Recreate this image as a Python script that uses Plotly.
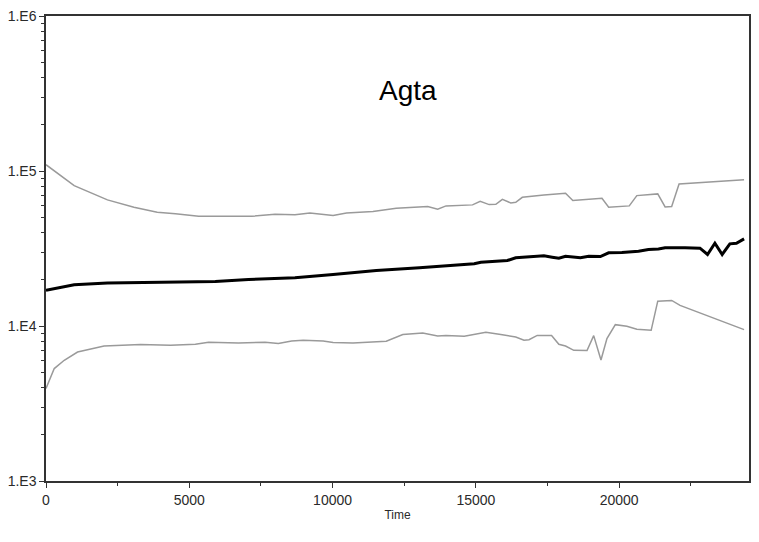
import plotly.graph_objects as go

# Upper bound series
upper_t = [0, 983, 2144, 3068, 3881, 4344, 4517, 5327, 6488, 7183, 7992, 8687,
           9208, 10018, 10484, 11408, 12221, 13031, 13319, 13667, 13958, 14883,
           15150, 15463, 15696, 15925, 16217, 16391, 16620, 17374, 18128, 18382,
           19400, 19633, 20352, 20616, 21346, 21603, 21832, 22090, 24358]
upper_v = [109800, 80450, 65100, 58320, 54150, 53670, 52900, 51050, 50820, 51050,
           52590, 52120, 53670, 51580, 53670, 54720, 57470, 58950, 58950, 56620,
           59560, 60450, 63760, 60720, 60980, 65680, 62260, 62760, 67650, 70100,
           71780, 64420, 66660, 58320, 59560, 69380, 71150, 58670, 58950, 82500,
           87950]

# Central estimate
mid_t = [0, 983, 2144, 4344, 5907, 7064, 8687, 10018, 11526, 13031, 14247, 14942,
         15174, 16099, 16391, 17374, 17662, 17895, 18128, 18649, 18938, 19344,
         19633, 20095, 20675, 21022, 21370, 21603, 22298, 22819, 23083, 23340,
         23594, 23862, 24091, 24358]
mid_v = [16970, 18470, 18910, 19190, 19390, 19970, 20480, 21510, 22820, 23750,
         24570, 25200, 25800, 26460, 27540, 28380, 27800, 27390, 28210, 27540,
         28210, 28080, 29680, 29810, 30390, 31160, 31380, 31960, 31960, 31770,
         28930, 34210, 28930, 33900, 34210, 36510]

# Lower bound series
lower_t = [0, 288, 636, 1101, 2026, 3301, 4344, 5212, 5674, 6717, 7645, 8107,
           8572, 8975, 9670, 10018, 10713, 11873, 12450, 13031, 13145, 13667,
           13958, 14594, 15348, 15869, 16391, 16679, 16853, 17141, 17641, 17895,
           18128, 18416, 18878, 19111, 19365, 19573, 19866, 20268, 20616, 21116,
           21346, 21832, 22124, 24358]
lower_v = [3951, 5315, 6009, 6797, 7431, 7586, 7508, 7619, 7849, 7769, 7849, 7699,
           8002, 8086, 8002, 7815, 7769, 7967, 8800, 8930, 9010, 8618, 8690, 8580,
           9104, 8800, 8492, 8086, 8160, 8690, 8690, 7619, 7431, 6970, 6945, 8667,
           6028, 8290, 10200, 9950, 9518, 9377, 14470, 14630, 13590, 9476]

y_major = [1e3, 1e4, 1e5, 1e6]
y_labels = ["1.E3", "1.E4", "1.E5", "1.E6"]
x_major = [0, 5000, 10000, 15000, 20000]
x_minor = [2500, 7500, 12500, 17500, 22500]
y_minor = [m * 10 ** e for e in (3, 4, 5) for m in range(2, 10)]

fig = go.Figure()
fig.add_trace(go.Scatter(x=upper_t, y=upper_v, mode="lines",
                         line=dict(color="#9a9a9a", width=1.5)))
fig.add_trace(go.Scatter(x=lower_t, y=lower_v, mode="lines",
                         line=dict(color="#9a9a9a", width=1.5)))
fig.add_trace(go.Scatter(x=mid_t, y=mid_v, mode="lines",
                         line=dict(color="#000000", width=3)))

family = "Liberation Sans, Arial, sans-serif"
tick_font = dict(family=family, size=14, color="#2a2a2a")
title_font = dict(family=family, size=12, color="#2a2a2a")

fig.update_layout(
    width=759, height=542,
    margin=dict(l=45, r=8, t=15, b=61),
    paper_bgcolor="white", plot_bgcolor="white",
    showlegend=False,
    font=tick_font,
    xaxis=dict(
        range=[0, 24530], tickvals=x_major, ticktext=[str(v) for v in x_major],
        ticks="outside", ticklen=5, tickcolor="#333333", tickwidth=1.2,
        minor=dict(tickvals=x_minor, ticks="outside", ticklen=3,
                   tickcolor="#333333", tickwidth=1.2),
        showline=True, linecolor="#333333", linewidth=1.5, mirror=True,
        showgrid=False, zeroline=False, tickfont=tick_font,
        title=dict(text="Time", font=title_font, standoff=4),
    ),
    yaxis=dict(
        type="log", range=[3, 6], tickvals=y_major, ticktext=y_labels,
        ticks="outside", ticklen=5, tickcolor="#333333", tickwidth=1.2,
        minor=dict(tickvals=y_minor, ticks="outside", ticklen=3,
                   tickcolor="#333333", tickwidth=1.2),
        showline=True, linecolor="#333333", linewidth=1.5, mirror=True,
        showgrid=False, zeroline=False, tickfont=tick_font,
    ),
    annotations=[dict(text="Agta", xref="paper", yref="paper", x=0.515, y=0.84,
                      yanchor="middle", showarrow=False,
                      font=dict(family=family, size=28, color="#000000"))],
)

fig.write_html("out.html")
